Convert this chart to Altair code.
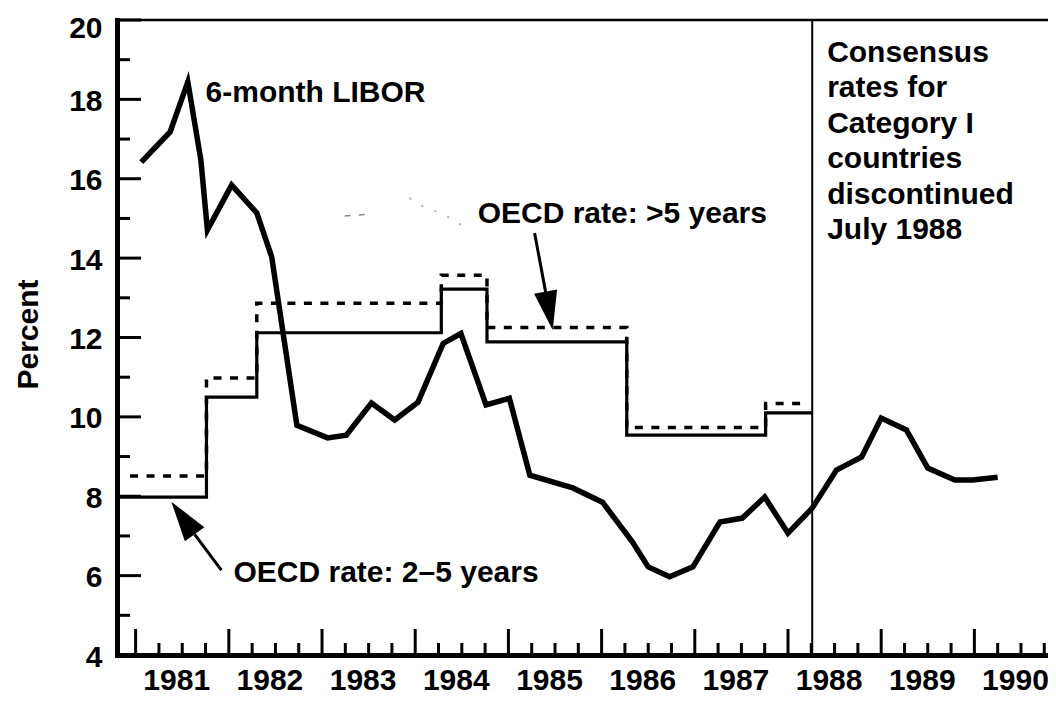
import altair as alt
import pandas as pd

FONT = "Liberation Sans"

# 6-month LIBOR (year, percent)
libor_year = [1981.06, 1981.37, 1981.56, 1981.70, 1981.77, 1982.03, 1982.30, 1982.46,
              1982.73, 1983.06, 1983.26, 1983.53, 1983.78, 1984.03, 1984.30, 1984.49,
              1984.76, 1985.01, 1985.23, 1985.69, 1986.01, 1986.33, 1986.50, 1986.73,
              1986.98, 1987.27, 1987.51, 1987.75, 1988.00, 1988.26, 1988.52, 1988.79,
              1989.00, 1989.27, 1989.50, 1989.79, 1989.98, 1990.25]
libor_rate = [16.42, 17.18, 18.44, 16.47, 14.71, 15.84, 15.14, 14.03,
              9.79, 9.47, 9.54, 10.35, 9.92, 10.37, 11.85, 12.10,
              10.30, 10.47, 8.53, 8.21, 7.85, 6.85, 6.22, 5.97,
              6.22, 7.35, 7.45, 7.98, 7.07, 7.70, 8.66, 8.99,
              9.97, 9.67, 8.71, 8.41, 8.41, 8.48]

# OECD consensus rate, 2-5 years (step changes)
oecd25_year = [1980.80, 1981.76, 1982.30, 1984.28, 1984.77, 1986.27, 1987.76, 1988.26]
oecd25_rate = [7.98, 10.50, 12.12, 13.22, 11.89, 9.54, 10.10, 10.10]

# OECD consensus rate, >5 years (step changes)
oecd5_year = [1980.94, 1981.76, 1982.30, 1984.28, 1984.77, 1986.27, 1987.76, 1988.22]
oecd5_rate = [8.51, 10.98, 12.86, 13.57, 12.25, 9.73, 10.34, 10.34]

discontinued_year = 1988.26

# axis ticks and labels
y_major = [4, 6, 8, 10, 12, 14, 16, 18, 20]
y_minor = [5, 7, 9, 11, 13, 15, 17, 19]
x_major = [1981, 1982, 1983, 1984, 1985, 1986, 1987, 1988, 1989, 1990]
x_minor = [yr + q for yr in x_major for q in (0.25, 0.5, 0.75)]
x_label_pos = [yr + 0.5 for yr in x_major]

# annotations (data coordinates)
label_libor = {"t": 1981.75, "v": 17.94, "text": "6-month LIBOR"}
label_gt5 = {"t": 1984.67, "v": 14.88, "text": "OECD rate: >5 years"}
label_25 = {"t": 1982.05, "v": 5.83, "text": "OECD rate:  2\u20135 years"}
consensus_lines = ["Consensus", "rates for", "Category I", "countries",
                   "discontinued", "July 1988"]
label_consensus = {"t": 1988.42, "v": 18.95}

arrow_gt5_shaft = {"t1": 1985.281, "v1": 14.63, "t2": 1985.399, "v2": 13.15}
arrow_gt5_head = {"t": 1985.437, "v": 12.67}
arrow_25_shaft = {"t1": 1981.92, "v1": 6.14, "t2": 1981.633, "v2": 7.04}
arrow_25_head = {"t": 1981.508, "v": 7.453}

faint_a_year = [1983.243, 1983.532]
faint_a_rate = [15.06, 15.11]
faint_b_year = [1983.94, 1984.08, 1984.26, 1984.42, 1984.51]
faint_b_rate = [15.51, 15.31, 15.14, 14.96, 14.81]

W, H = 931, 635
xs = alt.Scale(domain=[1980.8, 1990.79], nice=False, zero=False)
ys = alt.Scale(domain=[4, 20], nice=False, zero=False)

x_axis = alt.Axis(values=x_label_pos, labelExpr="'' + floor(datum.value)", ticks=False,
                  grid=False, domain=True, domainWidth=5, domainColor="black",
                  domainCap="square", labelFont=FONT, labelFontSize=30,
                  labelFontWeight="bold", labelColor="black", labelPadding=10,
                  labelOffset=-6, labelOverlap=False, title=None)
y_axis = alt.Axis(values=y_major, ticks=False, grid=False, domain=True, domainWidth=5,
                  domainColor="black", domainCap="square", labelFont=FONT,
                  labelFontSize=30, labelFontWeight="bold", labelColor="black",
                  labelPadding=15, labelOverlap=False,
                  labelOffset={"condition": {"test": "datum.value == 20", "value": 8}, "value": 2},
                  title="Percent", titleFont=FONT, titleFontSize=30, titleFontWeight="bold",
                  titleColor="black", titleX=-80, titleY=314, titleAngle=270,
                  titleAlign="center", titleBaseline="alphabetic")


def X(field="t"):
    return alt.X(f"{field}:Q", scale=xs, axis=x_axis)


def Y(field="v"):
    return alt.Y(f"{field}:Q", scale=ys, axis=y_axis)


libor_df = pd.DataFrame({"t": libor_year, "v": libor_rate})
libor = alt.Chart(libor_df).mark_line(color="black", strokeWidth=5.5, strokeJoin="miter").encode(
    x=X(), y=Y())

oecd25 = alt.Chart(pd.DataFrame({"t": oecd25_year, "v": oecd25_rate})).mark_line(
    color="black", strokeWidth=3.2, interpolate="step-after").encode(x=X(), y=Y())

oecd5 = alt.Chart(pd.DataFrame({"t": oecd5_year, "v": oecd5_rate})).mark_line(
    color="black", strokeWidth=3.5, interpolate="step-after", strokeDash=[8, 8.5]).encode(x=X(), y=Y())

ytick_major = alt.Chart(pd.DataFrame({"v": y_major})).mark_rule(color="black", strokeWidth=3).encode(
    y=Y(), x=alt.value(0), x2=alt.value(24))
ytick_minor = alt.Chart(pd.DataFrame({"v": y_minor})).mark_rule(color="black", strokeWidth=3).encode(
    y=Y(), x=alt.value(0), x2=alt.value(13))
xtick_major = alt.Chart(pd.DataFrame({"t": x_major})).mark_rule(color="black", strokeWidth=3).encode(
    x=X(), y=alt.value(H), y2=alt.value(H - 26))
xtick_minor = alt.Chart(pd.DataFrame({"t": x_minor})).mark_rule(color="black", strokeWidth=3).encode(
    x=X(), y=alt.value(H), y2=alt.value(H - 12))

top_frame = alt.Chart(pd.DataFrame({"v": [20]})).mark_rule(color="black", strokeWidth=2.5).encode(
    y=Y())
vline = alt.Chart(pd.DataFrame({"t": [discontinued_year]})).mark_rule(color="black", strokeWidth=2).encode(
    x=X())

text_style = dict(font=FONT, fontSize=30, fontWeight="bold", color="black",
                  align="left", baseline="alphabetic")
texts = alt.Chart(pd.DataFrame([label_libor, label_gt5, label_25])).mark_text(**text_style).encode(
    x=X(), y=Y(), text="text:N")
consensus = alt.Chart(pd.DataFrame([{**label_consensus, "text": "\n".join(consensus_lines)}])).mark_text(
    lineBreak="\n", lineHeight=35.5, **text_style).encode(x=X(), y=Y(), text="text:N")

shafts = alt.Chart(pd.DataFrame([arrow_gt5_shaft, arrow_25_shaft])).mark_rule(
    color="black", strokeWidth=3).encode(x=X("t1"), x2="t2:Q", y=Y("v1"), y2="v2:Q")
ARROW = "M0,-1L0.6,1L-0.6,1Z"
head_gt5 = alt.Chart(pd.DataFrame([arrow_gt5_head])).mark_point(
    shape=ARROW, filled=True, opacity=1, color="black", size=1521, angle=169.5).encode(x=X(), y=Y())
head_25 = alt.Chart(pd.DataFrame([arrow_25_head])).mark_point(
    shape=ARROW, filled=True, opacity=1, color="black", size=1600, angle=324.4).encode(x=X(), y=Y())

faint_a = alt.Chart(pd.DataFrame({"t": faint_a_year, "v": faint_a_rate})).mark_line(
    color="#888888", strokeWidth=1.5, strokeDash=[6, 8]).encode(x=X(), y=Y())
faint_b = alt.Chart(pd.DataFrame({"t": faint_b_year, "v": faint_b_rate})).mark_line(
    color="#999999", strokeWidth=1.5, strokeDash=[2, 12]).encode(x=X(), y=Y())

chart = alt.layer(
    libor, oecd25, oecd5, ytick_major, ytick_minor, xtick_major, xtick_minor,
    top_frame, vline, texts, consensus, shafts, head_gt5, head_25, faint_a, faint_b,
).properties(
    width=W, height=H,
    autosize=alt.AutoSizeParams(type="none"),
    padding={"left": 109, "top": 12, "right": 0, "bottom": 40},
).configure_view(stroke=None).configure(background="white")

chart.save("out.html", embed_options={"renderer": "svg", "actions": False})
